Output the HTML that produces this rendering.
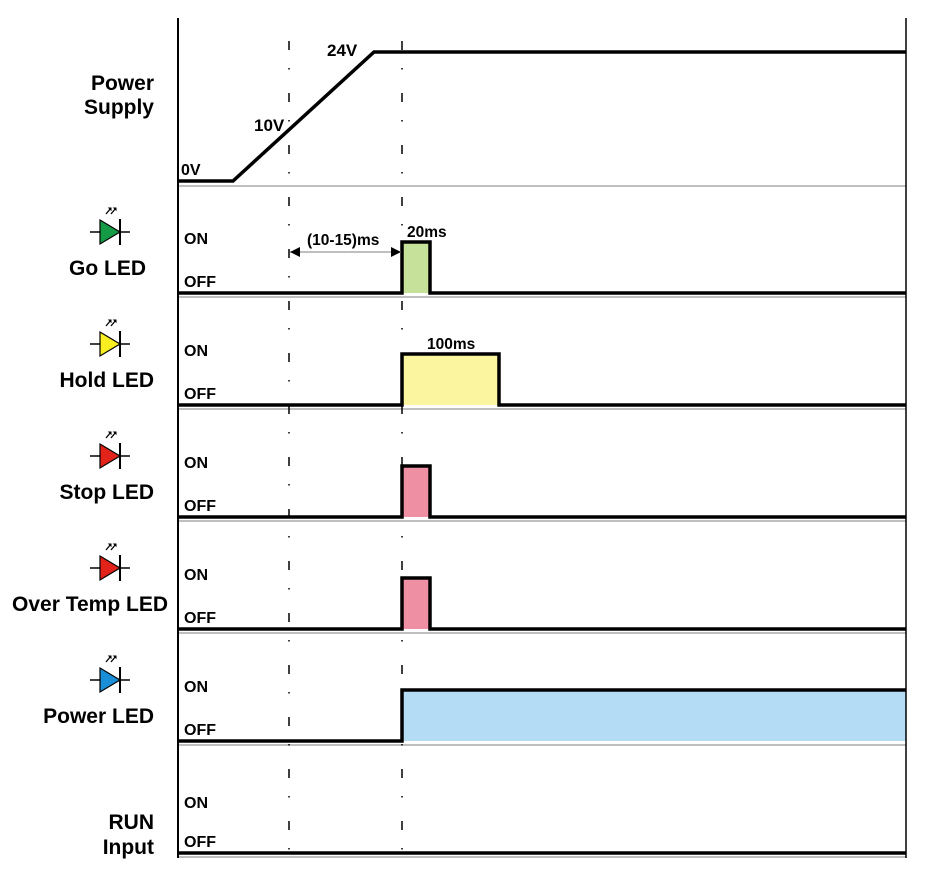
<!DOCTYPE html>
<html><head><style>
html,body{margin:0;padding:0;background:#fff;}
svg{display:block;}
text{font-family:"Liberation Sans",Arial,sans-serif;font-weight:bold;fill:#000;}
</style></head><body>
<svg width="950" height="880" viewBox="0 0 950 880" xmlns="http://www.w3.org/2000/svg">
<defs>
<g id="led">
 <line x1="-22" y1="0" x2="18" y2="0" stroke="#000" stroke-width="1.5"/>
 <line x1="8" y1="-13" x2="8" y2="13" stroke="#000" stroke-width="2"/>
 <line x1="-6" y1="-18" x2="-1" y2="-24" stroke="#000" stroke-width="1.3"/>
 <line x1="-1" y1="-18" x2="4" y2="-24" stroke="#000" stroke-width="1.3"/>
 <path d="M-3,-24 L-1,-24 L-1,-22 z M2,-24 L4,-24 L4,-22 z" fill="#000" stroke="#000" stroke-width="1"/>
</g>
<marker id="ah" viewBox="0 0 10 10" refX="10" refY="5" markerWidth="12" markerHeight="10" orient="auto-start-reverse" markerUnits="userSpaceOnUse"><path d="M0,0 L10,5 L0,10 z" fill="#000"/></marker>
</defs>

<rect x="402" y="242" width="28" height="51" fill="#c6e29a"/>
<rect x="402" y="354" width="97" height="51" fill="#fbf5a0"/>
<rect x="402" y="466" width="28" height="51" fill="#ee8fa4"/>
<rect x="402" y="578" width="28" height="51" fill="#ee8fa4"/>
<rect x="402" y="690" width="504" height="51" fill="#b5dcf5"/>

<g stroke="#aaa" stroke-width="1.5">
<line x1="178" y1="186" x2="906" y2="186"/>
<line x1="178" y1="297" x2="906" y2="297"/>
<line x1="178" y1="409" x2="906" y2="409"/>
<line x1="178" y1="521" x2="906" y2="521"/>
<line x1="178" y1="633" x2="906" y2="633"/>
<line x1="178" y1="745" x2="906" y2="745"/>
<line x1="178" y1="857" x2="906" y2="857"/>
</g>

<line x1="178" y1="18" x2="178" y2="858" stroke="#000" stroke-width="2"/>
<line x1="906" y1="18" x2="906" y2="858" stroke="#000" stroke-width="1.5"/>

<g stroke="#000" stroke-width="1.5">
<line x1="289" y1="41" x2="289" y2="858" stroke-dasharray="9 18 1.5 23.5"/>
<line x1="402" y1="41" x2="402" y2="858" stroke-dasharray="9 18 1.5 23.5"/>
</g>

<g fill="none" stroke="#000" stroke-width="3.5" stroke-linejoin="miter">
<polyline points="178,181 233,181 374,52 906,52"/>
<polyline points="178,293 402,293 402,242 430,242 430,293 906,293"/>
<polyline points="178,405 402,405 402,354 499,354 499,405 906,405"/>
<polyline points="178,517 402,517 402,466 430,466 430,517 906,517"/>
<polyline points="178,629 402,629 402,578 430,578 430,629 906,629"/>
<polyline points="178,741 402,741 402,690 906,690"/>
<polyline points="178,853 906,853"/>
</g>

<line x1="290" y1="252" x2="401" y2="252" stroke="#999" stroke-width="1.2" marker-start="url(#ah)" marker-end="url(#ah)"/>
<text x="307" y="245" font-size="15.5">(10-15)ms</text>
<text x="407" y="237" font-size="15.5">20ms</text>
<text x="427" y="349" font-size="15.5">100ms</text>

<text x="181" y="175" font-size="16">0V</text>
<text x="254" y="131" font-size="17">10V</text>
<text x="327" y="56" font-size="17">24V</text>

<g font-size="21" text-anchor="end">
<text x="154" y="90">Power</text>
<text x="154" y="114">Supply</text>
<text x="146" y="275">Go LED</text>
<text x="154" y="387">Hold LED</text>
<text x="154" y="499">Stop LED</text>
<text x="168" y="611">Over Temp LED</text>
<text x="154" y="723">Power LED</text>
<text x="154" y="829">RUN</text>
<text x="154" y="854">Input</text>
</g>

<g font-size="16">
<text x="184" y="244">ON</text><text x="184" y="287">OFF</text>
<text x="184" y="356">ON</text><text x="184" y="399">OFF</text>
<text x="184" y="468">ON</text><text x="184" y="511">OFF</text>
<text x="184" y="580">ON</text><text x="184" y="623">OFF</text>
<text x="184" y="692">ON</text><text x="184" y="735">OFF</text>
<text x="184" y="808">ON</text><text x="184" y="847">OFF</text>
</g>

<g transform="translate(112,232)"><use href="#led"/><path d="M-12,-12 L8,0 L-12,12 z" fill="#159a45" stroke="#000" stroke-width="1.2"/></g>
<g transform="translate(112,344)"><use href="#led"/><path d="M-12,-12 L8,0 L-12,12 z" fill="#f8ee20" stroke="#000" stroke-width="1.2"/></g>
<g transform="translate(112,456)"><use href="#led"/><path d="M-12,-12 L8,0 L-12,12 z" fill="#e2231a" stroke="#000" stroke-width="1.2"/></g>
<g transform="translate(112,568)"><use href="#led"/><path d="M-12,-12 L8,0 L-12,12 z" fill="#e2231a" stroke="#000" stroke-width="1.2"/></g>
<g transform="translate(112,680)"><use href="#led"/><path d="M-12,-12 L8,0 L-12,12 z" fill="#1a8fd8" stroke="#000" stroke-width="1.2"/></g>
</svg>
</body></html>
